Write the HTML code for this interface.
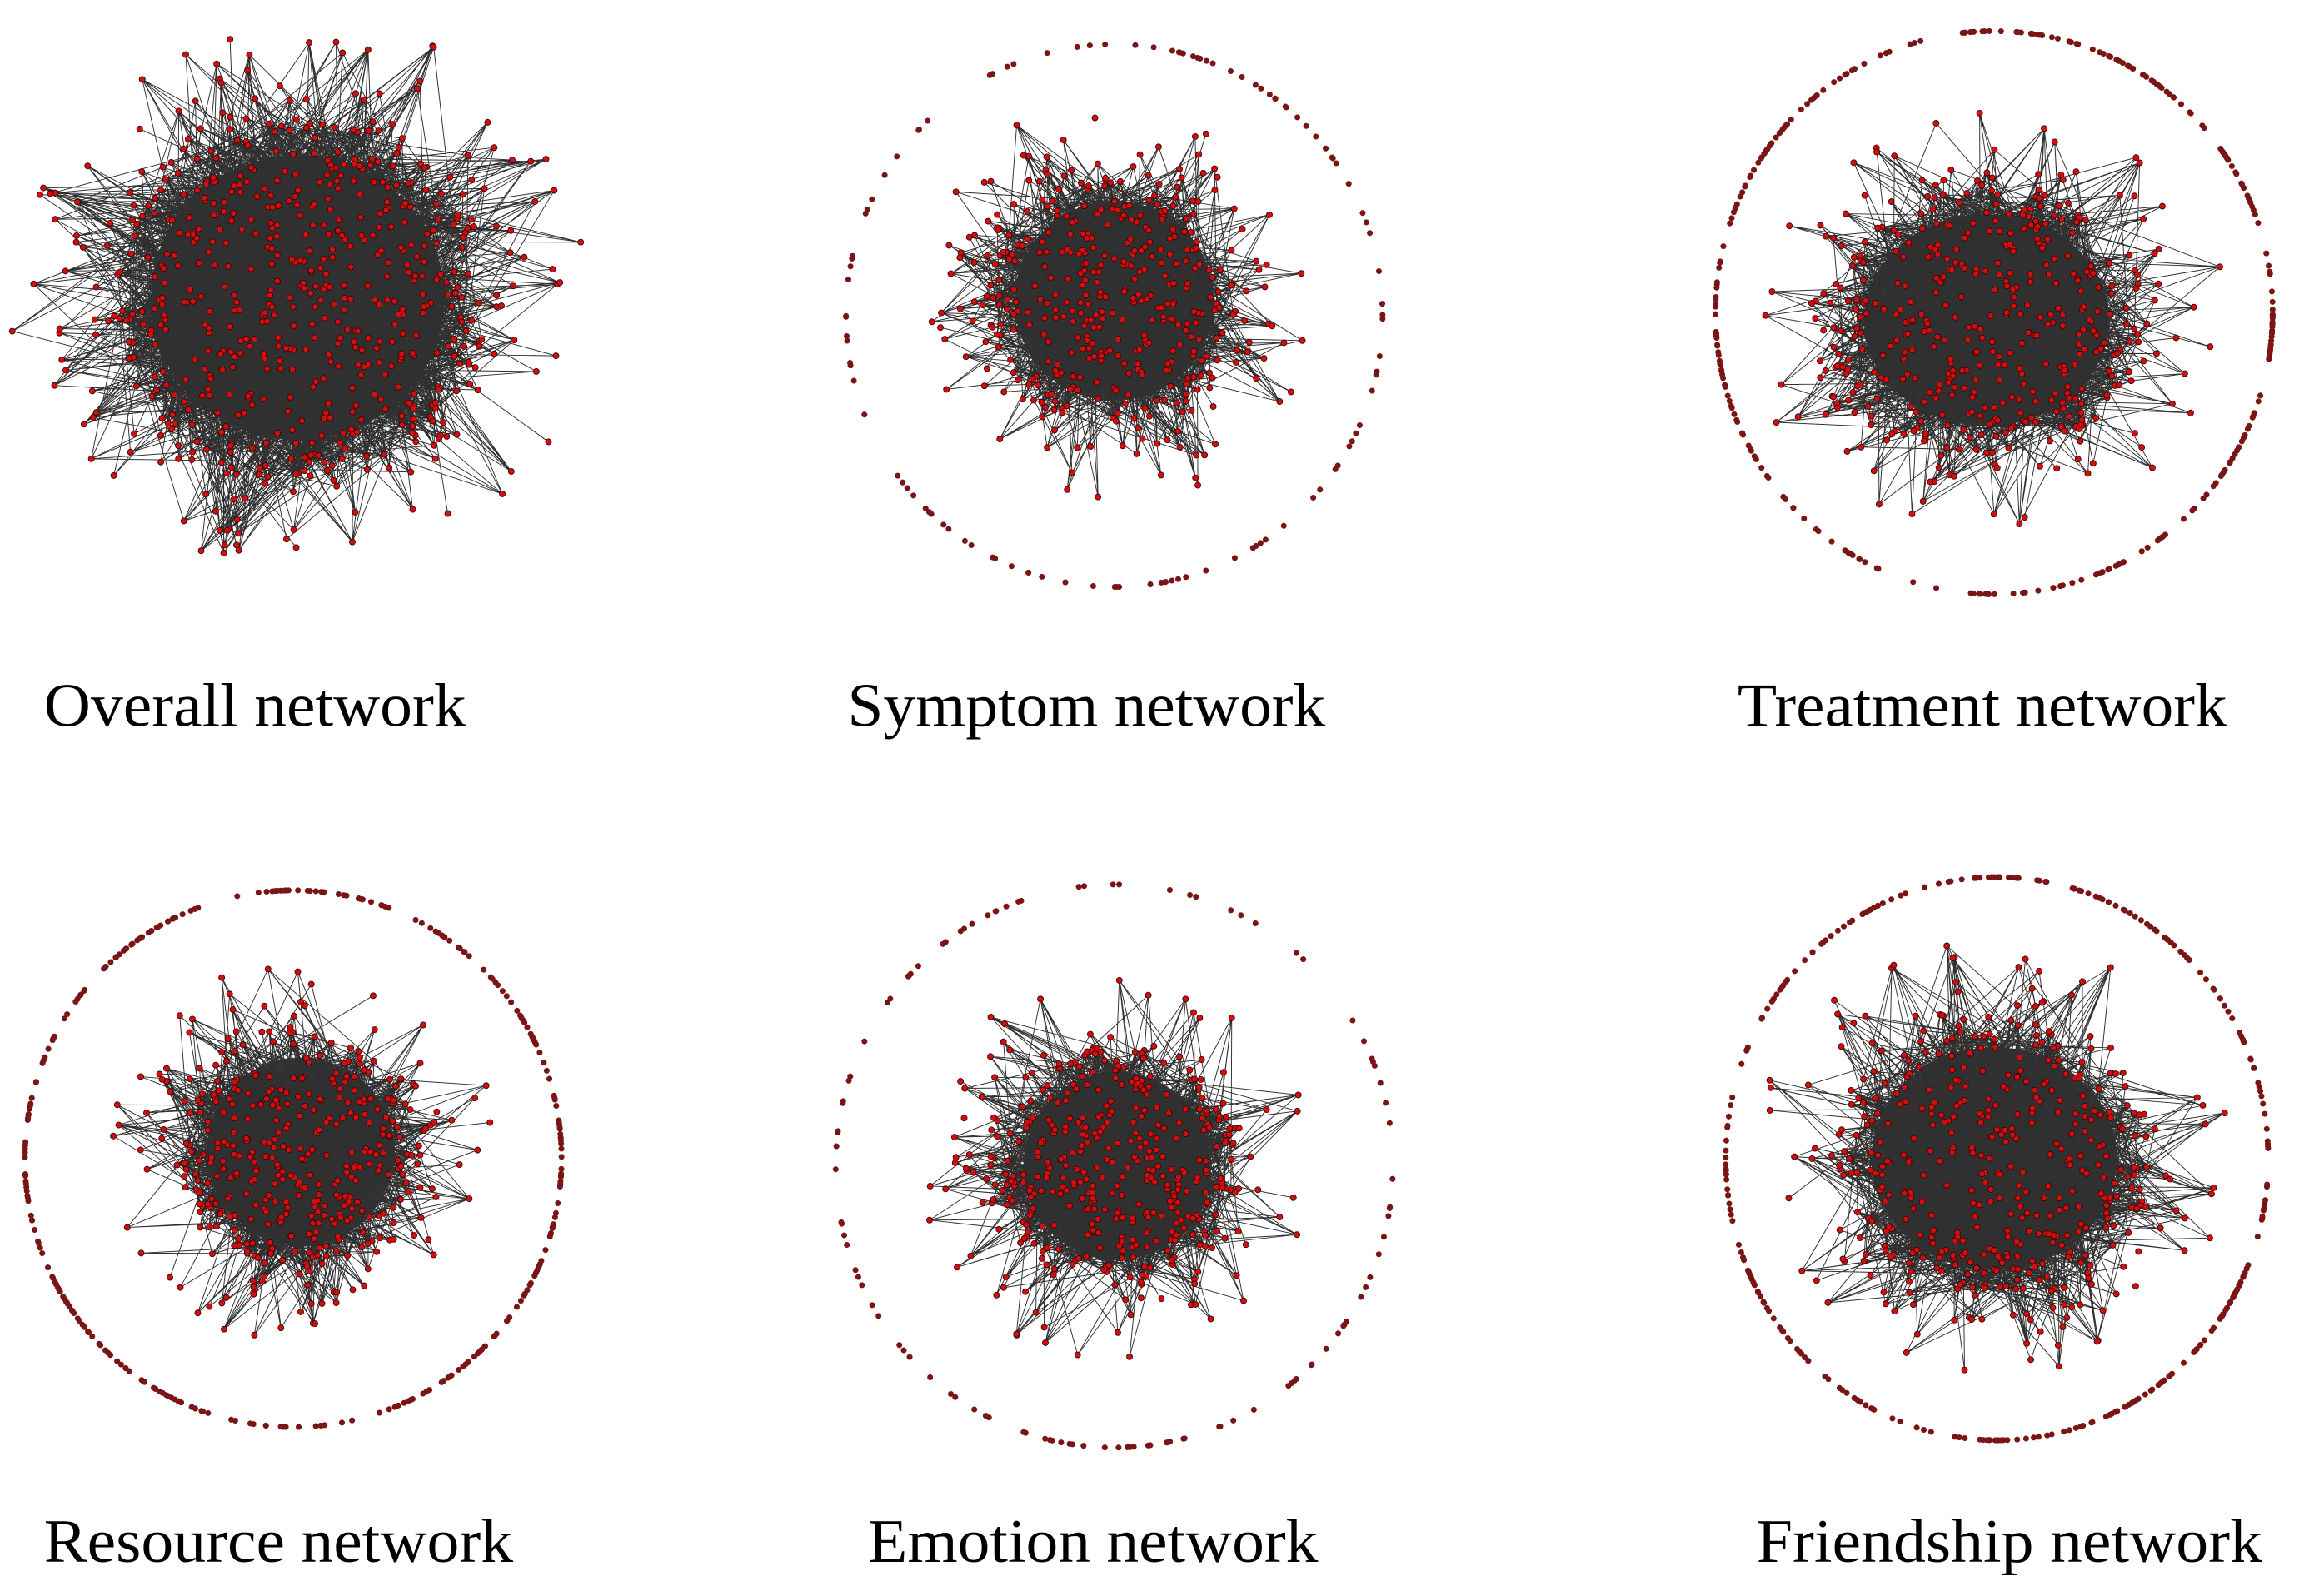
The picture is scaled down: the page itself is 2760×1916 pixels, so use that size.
<!DOCTYPE html>
<html><head><meta charset="utf-8"><style>
html,body{margin:0;padding:0;background:#fff;width:2760px;height:1916px;overflow:hidden}
svg{display:block}
text{font-family:"Liberation Serif",serif;font-size:42px;fill:#000}
</style></head><body>
<svg id="s" width="2760" height="1916" viewBox="0 0 1568 1088" xmlns="http://www.w3.org/2000/svg">
<g id="g"></g>
<text x="30" y="495" textLength="288" lengthAdjust="spacingAndGlyphs">Overall network</text>
<text x="578" y="495" textLength="326" lengthAdjust="spacingAndGlyphs">Symptom network</text>
<text x="1185" y="495" textLength="334" lengthAdjust="spacingAndGlyphs">Treatment network</text>
<text x="30" y="1065" textLength="320" lengthAdjust="spacingAndGlyphs">Resource network</text>
<text x="592" y="1065" textLength="307" lengthAdjust="spacingAndGlyphs">Emotion network</text>
<text x="1198" y="1065" textLength="345" lengthAdjust="spacingAndGlyphs">Friendship network</text>
</svg>
<script>
var seed=12345;function rnd(){seed=(seed*1103515245+12345)%2147483648;return seed/2147483648;}
var out=[];
function blob(cx,cy,Rc,R,n,ne,sx,sy){
  var nodes=[],core=[];
  for(var i=0;i<n;i++){var a=rnd()*6.283,r,isC=false;
    if(rnd()<0.72){r=Rc*Math.sqrt(rnd());isC=true;} else {r=Rc+(R-Rc)*Math.pow(rnd(),1.6);}
    var p=[cx+Math.cos(a)*r*sx,cy+Math.sin(a)*r*sy];nodes.push(p);if(isC)core.push(p);}
  out.push('<ellipse cx="'+cx+'" cy="'+cy+'" rx="'+(Rc*0.8*sx)+'" ry="'+(Rc*0.8*sy)+'" fill="#383838"/>');
  var p='';
  for(var e=0;e<ne;e++){var a=nodes[Math.floor(rnd()*n)],b=core[Math.floor(rnd()*core.length)];
    p+='M'+a[0].toFixed(1)+' '+a[1].toFixed(1)+'L'+b[0].toFixed(1)+' '+b[1].toFixed(1);}
  out.push('<path d="'+p+'" stroke="#303030" stroke-width="0.55" fill="none"/>');
  var c='';
  for(var i=0;i<n;i++){c+='<circle cx="'+nodes[i][0].toFixed(1)+'" cy="'+nodes[i][1].toFixed(1)+'" r="2"/>';}
  out.push('<g fill="#d01010" stroke="#400" stroke-width="0.5">'+c+'</g>');
}
function gauss(){var u=rnd()||1e-9,v=rnd();return Math.sqrt(-2*Math.log(u))*Math.cos(2*Math.PI*v);}
function ring(cx,cy,rx,ry,n,dense){
  var c='';
  for(var i=0;i<n;i++){var a=rnd()*6.283;
    if(dense&&rnd()<0.5){a=Math.floor(rnd()*12)/12*6.283+gauss()*0.12;}
    c+='<circle cx="'+(cx+Math.cos(a)*rx).toFixed(1)+'" cy="'+(cy+Math.sin(a)*ry).toFixed(1)+'" r="2"/>';}
  out.push('<g fill="#7a1515">'+c+'</g>');
}
blob(203,203,125,200,650,3500,1.0,0.97);
blob(760,205,85,140,420,1800,1,1);ring(760,215,183,185,110,false);
blob(1355,218,95,150,460,2000,1.1,0.95);ring(1360,213,190,192,320,true);
blob(205,785,80,135,420,1800,1,1);ring(200,790,183,183,330,true);
blob(762,795,80,135,430,1900,1,1);ring(760,795,190,192,110,false);
blob(1360,790,95,150,460,2000,1.1,1);ring(1362,790,185,192,320,true);
document.getElementById('g').innerHTML=out.join('');
</script>
</body></html>
